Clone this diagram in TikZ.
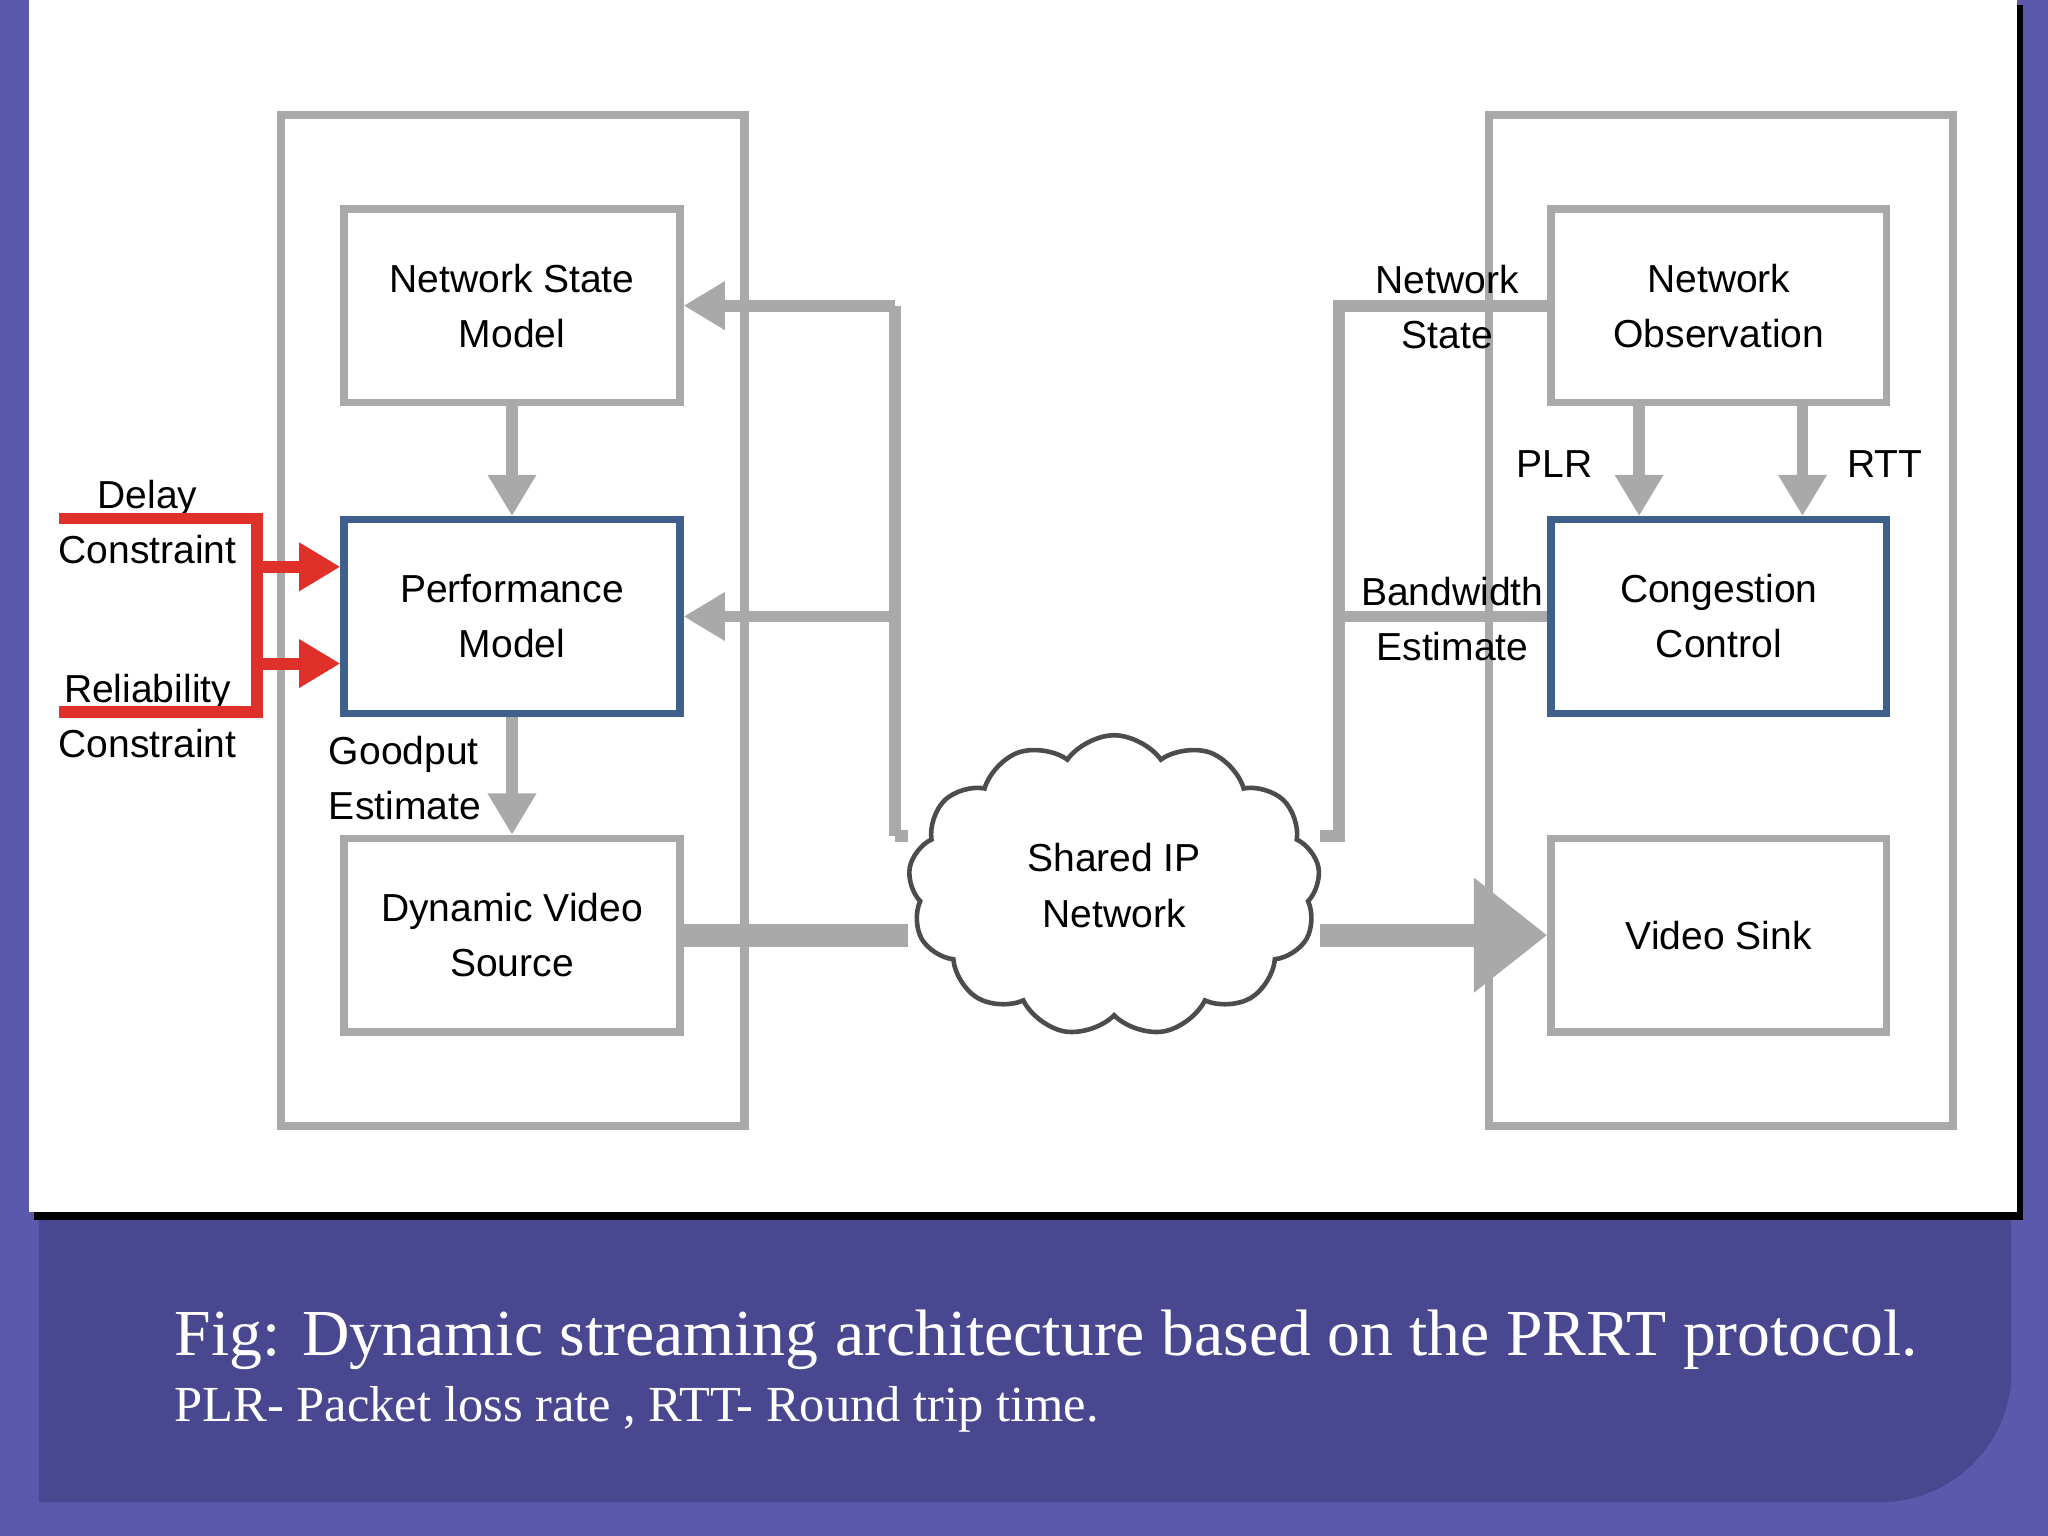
\documentclass[tikz,border=0pt]{standalone}
\usepackage{fontspec}
\setmainfont{Liberation Serif}
\newfontfamily\sansf{Liberation Sans}
\usetikzlibrary{shapes.symbols,arrows.meta}
\definecolor{bgout}{HTML}{5A59AC}
\definecolor{bgin}{HTML}{48478F}
\definecolor{gline}{HTML}{A9A9A9}
\definecolor{bline}{HTML}{3F5F8C}
\definecolor{rline}{HTML}{E0302A}
\begin{document}
\begin{tikzpicture}[x=0.01cm,y=-0.01cm,
 box/.style={draw=gline,line width=1.6pt,fill=white,minimum width=2.57cm,minimum height=1.48cm,align=center,font=\sansf\fontsize{8.5}{12}\selectfont},
 bbox/.style={box,draw=bline},
 cont/.style={draw=gline,line width=1.8pt,fill=white},
 garr/.style={draw=gline,line width=2.6pt,-{Triangle[length=9pt,width=10pt]}},
 gl/.style={draw=gline,line width=2.6pt},
 rarr/.style={draw=rline,line width=2.6pt,-{Triangle[length=9pt,width=10pt]}},
 lab/.style={font=\sansf\fontsize{8.5}{12}\selectfont,align=center,inner sep=0pt}]
\useasboundingbox (0,0) rectangle (1568,1176);
\fill[bgout] (0,0) rectangle (1568,1176);
\fill[bgin] (30,925) -- (1540,925) -- (1540,1050) .. controls (1540,1105) and (1495,1150) .. (1440,1150) -- (30,1150) -- cycle;
\fill[black] (26,4) rectangle (1549,934);
\fill[white] (22,0) rectangle (1544,928);
% containers
\draw[cont] (215,88) rectangle (570,862);
\draw[cont] (1140,88) rectangle (1495,862);
% nodes
\node[box] (nsm) at (392,234) {Network State\\Model};
\node[bbox] (pm) at (392,472) {Performance\\Model};
\node[box] (dvs) at (392,716) {Dynamic Video\\Source};
\node[box] (no) at (1316,234) {Network\\Observation};
\node[bbox] (cc) at (1316,472) {Congestion\\Control};
\node[box] (vs) at (1316,716) {Video Sink};
\node[cloud,cloud puffs=13,cloud puff arc=110,aspect=1.4,draw=black!70,line width=1pt,fill=white,minimum width=3.15cm,minimum height=2.3cm,align=center,font=\sansf\fontsize{8.5}{12}\selectfont] (net) at (853,678) {Shared IP\\Network};
% coordinates
\coordinate (l1) at (685,640);
\coordinate (l2) at (685,234);
\coordinate (l3) at (685,472);
\coordinate (r1) at (1025,640);
\coordinate (r2) at (1025,234);
\coordinate (r3) at (1025,472);
% left feedback
\draw[gl] (l1) -- (l2);
\draw[garr] (l2) -- (nsm.east);
\draw[garr] (l3) -- (pm.east);
\draw[gl] (l1) -- (net.west |- l1);
% right feedback
\draw[gl] (no.west) -- (r2) -- (r1) -- (net.east |- r1);
\draw[gl] (cc.west) -- (r3);
\draw[garr] (nsm.south) -- (pm.north);
\draw[garr] (pm.south) -- (dvs.north);
\draw[garr] ([xshift=-0.61cm]no.south) -- ([xshift=-0.61cm]no.south |- cc.north);
\draw[garr] ([xshift=0.64cm]no.south) -- ([xshift=0.64cm]no.south |- cc.north);
% labels
\node[lab] at (1108,235) {Network\\State};
\node[lab] at (1112,474) {Bandwidth\\Estimate};
\node[lab] at (1190,355) {PLR};
\node[lab] at (1443,355) {RTT};
\node[lab,align=left] at (310,596) {Goodput\\Estimate};
% data path
\draw[draw=gline,line width=5pt] (dvs.east) -- (net.west |- dvs.east);
\draw[draw=gline,line width=5pt,-{Triangle[length=16pt,width=24pt]}] (net.east |- vs.west) -- (vs.west);
% red constraints
\coordinate (d0) at (45,397);
\coordinate (d1) at (197,397);
\coordinate (e0) at (45,545);
\coordinate (e1) at (197,545);
\node[lab] at (113,400) {Delay\\Constraint};
\node[lab] at (113,548) {Reliability\\Constraint};
\draw[rarr] (d0) -- (d1) |- ([yshift=-0.36cm]pm.west);
\draw[rarr] (e0) -- (e1) |- ([yshift=0.38cm]pm.west);
% caption
\node[anchor=base west,text=white,inner sep=0,font=\fontsize{14.3}{18}\selectfont] at (133,1038) {Fig: Dynamic streaming architecture based on the PRRT protocol.};
\node[anchor=base west,text=white,inner sep=0,font=\fontsize{11}{13}\selectfont] at (133,1088) {PLR- Packet loss rate , RTT- Round trip time.};
\end{tikzpicture}
\end{document}
